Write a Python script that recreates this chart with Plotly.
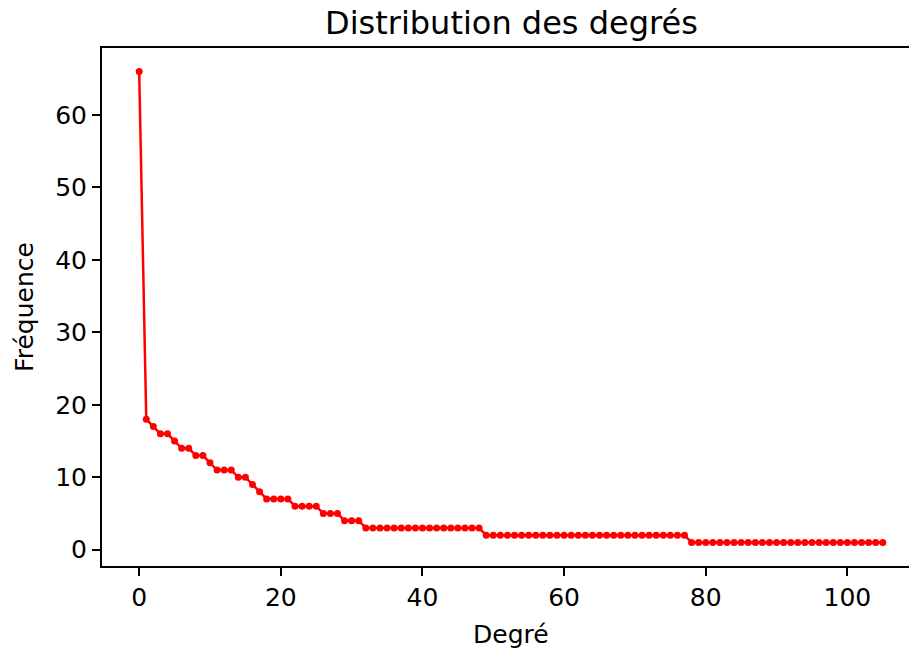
import plotly.graph_objects as go

degrees = list(range(0, 106))
freq = ([66, 18, 17, 16, 16, 15, 14, 14, 13, 13, 12, 11, 11, 11, 10, 10, 9, 8,
         7, 7, 7, 7, 6, 6, 6, 6, 5, 5, 5, 4, 4, 4]
        + [3] * 17 + [2] * 29 + [1] * 28)

title_text = "Distribution des degrés"
x_label = "Degré"
y_label = "Fréquence"
x_ticks = [0, 20, 40, 60, 80, 100]
y_ticks = [0, 10, 20, 30, 40, 50, 60]

FONT = "DejaVu Sans"

fig = go.Figure()
fig.add_trace(go.Scatter(
    x=degrees, y=freq, mode="lines+markers",
    line=dict(color="#ff0000", width=2.5),
    marker=dict(color="#ff0000", size=7),
    showlegend=False,
))

W, H = 909, 651
L, R, T, B = 102, 0, 48, 85

fig.update_layout(
    width=W, height=H,
    margin=dict(l=L, r=R, t=T, b=B),
    paper_bgcolor="white", plot_bgcolor="white",
    font=dict(family=FONT, color="black", size=25),
    annotations=[
        dict(text=title_text, xref="paper", yref="paper",
             x=(511 - L) / (W - L - R), y=1, xanchor="center", yanchor="bottom",
             yshift=4, showarrow=False, font=dict(size=32, family=FONT, color="black")),
        dict(text=x_label, xref="paper", yref="paper",
             x=(511 - L) / (W - L - R), y=0, xanchor="center", yanchor="top",
             yshift=-52, showarrow=False, font=dict(size=25, family=FONT, color="black")),
    ],
)

fig.update_xaxes(
    range=[-5.25, 108.7], tickvals=x_ticks, ticktext=[str(v) for v in x_ticks],
    showgrid=False, zeroline=False, showline=True, linecolor="black", linewidth=2,
    mirror=True, ticks="outside", ticklen=8, tickwidth=2, tickcolor="black",
    tickfont=dict(size=25, family=FONT, color="black"),
)
fig.update_yaxes(
    range=[-2.25, 69.25], tickvals=y_ticks, ticktext=[str(v) for v in y_ticks],
    showgrid=False, zeroline=False, showline=True, linecolor="black", linewidth=2,
    mirror=False, ticks="outside", ticklen=8, tickwidth=2, tickcolor="black",
    tickfont=dict(size=25, family=FONT, color="black"),
    title=dict(text=y_label, font=dict(size=25, family=FONT, color="black"), standoff=14),
)

fig.write_html("out.html")
